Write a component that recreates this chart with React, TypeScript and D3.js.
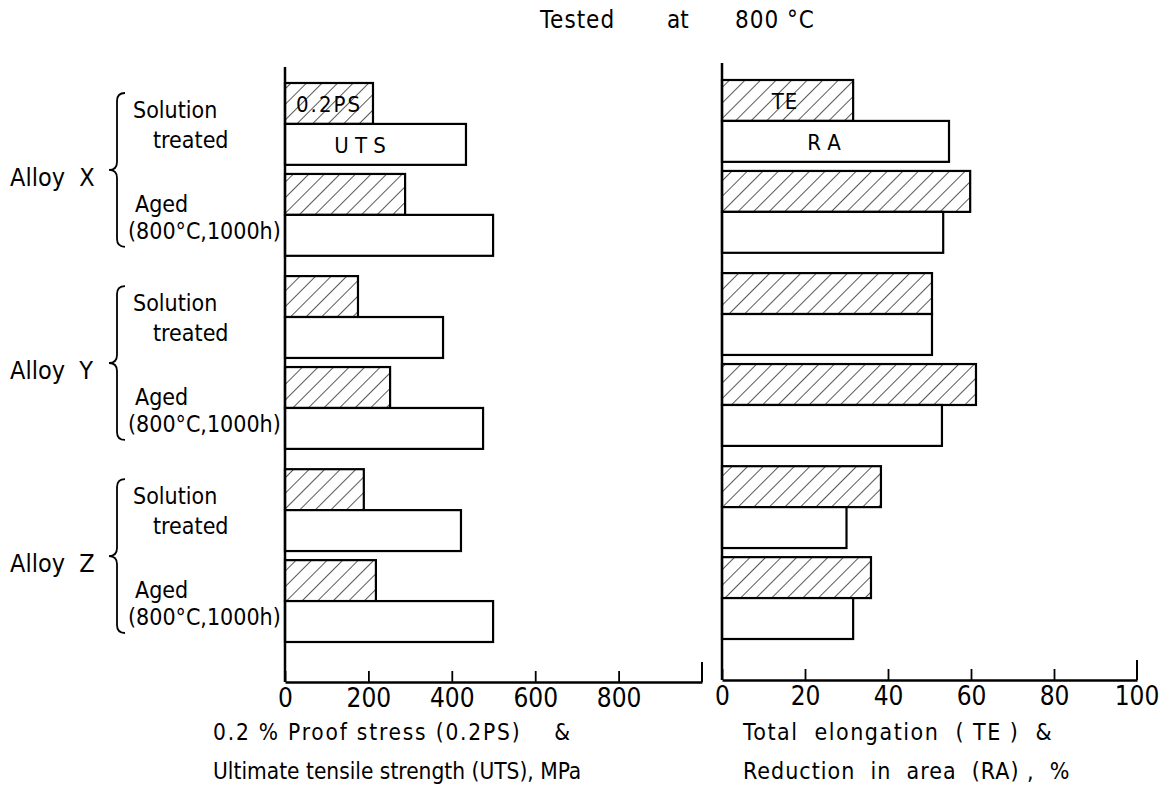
import React, { useRef, useEffect } from 'react';
import * as d3 from 'd3';

// alloys and heat-treatment conditions
const alloys = ['X', 'Y', 'Z'];
const conditions = ['Solution treated', 'Aged (800°C,1000h)'];

// values per alloy, in condition order (solution treated, aged)
const proofStress = [[211, 288], [175, 252], [189, 218]]; // 0.2PS, MPa
const tensileStrength = [[434, 499], [379, 475], [422, 499]]; // UTS, MPa
const elongation = [[31.6, 59.8], [50.6, 61.2], [38.3, 35.9]]; // TE, %
const reduction = [[54.7, 53.3], [50.6, 53.0], [30.0, 31.6]]; // RA, %

const stressTicks = [0, 200, 400, 600, 800];
const percentTicks = [0, 20, 40, 60, 80, 100];

const W = 1159;
const H = 797;
const FONT = '"DejaVu Sans Condensed", "Liberation Sans Narrow", sans-serif';

// curly brace, opening to the right
const bracePath = (x: number, y0: number, y1: number) => {
  const ym = (y0 + y1) / 2;
  const r = 8;
  return `M${x + r},${y0} Q${x},${y0} ${x},${y0 + r} L${x},${ym - r} Q${x},${ym} ${x - r},${ym}` +
    ` Q${x},${ym} ${x},${ym + r} L${x},${y1 - r} Q${x},${y1} ${x + r},${y1}`;
};

const App: React.FC = () => {
  const ref = useRef<SVGSVGElement | null>(null);

  useEffect(() => {
    if (!ref.current) return;
    const svg = d3.select<SVGSVGElement, unknown>(ref.current);
    svg.selectAll('*').remove();

    // hatch pattern
    const defs = svg.append('defs');
    const pat = defs.append('pattern')
      .attr('id', 'hatch')
      .attr('patternUnits', 'userSpaceOnUse')
      .attr('width', 11)
      .attr('height', 11)
      .attr('patternTransform', 'rotate(45)');
    pat.append('rect').attr('width', 11).attr('height', 11).attr('fill', '#fff');
    pat.append('line')
      .attr('x1', 0).attr('y1', 0).attr('x2', 0).attr('y2', 11)
      .attr('stroke', '#000').attr('stroke-width', 1.3);

    // y layout: alloy -> condition -> pair of bars
    const yGroup = d3.scaleBand<string>().domain(alloys).range([83, 642]).paddingInner(0.105);
    const yCond = d3.scaleBand<string>().domain(conditions).range([0, yGroup.bandwidth()]).paddingInner(0.1);
    const yPair = d3.scaleBand<string>().domain(['first', 'second']).range([0, yCond.bandwidth()]);

    const xLeft = d3.scaleLinear().domain([0, 1000]).range([285, 702]);
    const xRight = d3.scaleLinear().domain([0, 100]).range([722, 1137]);

    const drawPanel = (
      x: d3.ScaleLinear<number, number>,
      first: number[][],
      second: number[][],
      dy: number,
      ticks: number[],
      axisY: number,
      axisTop: number,
      endTick: number,
    ) => {
      const g = svg.append('g');
      alloys.forEach((a, i) => {
        conditions.forEach((c, j) => {
          const y0 = yGroup(a)! + yCond(c)! + dy;
          g.append('rect')
            .attr('x', x(0))
            .attr('y', y0 + yPair('first')!)
            .attr('width', x(first[i][j]) - x(0))
            .attr('height', yPair.bandwidth())
            .attr('fill', 'url(#hatch)')
            .attr('stroke', '#000')
            .attr('stroke-width', 2.2);
          g.append('rect')
            .attr('x', x(0))
            .attr('y', y0 + yPair('second')!)
            .attr('width', x(second[i][j]) - x(0))
            .attr('height', yPair.bandwidth())
            .attr('fill', '#fff')
            .attr('stroke', '#000')
            .attr('stroke-width', 2.2);
        });
      });

      // vertical axis line
      g.append('line')
        .attr('x1', x(0)).attr('x2', x(0))
        .attr('y1', axisTop).attr('y2', axisY)
        .attr('stroke', '#000').attr('stroke-width', 2.5);

      const axis = d3.axisBottom(x).tickValues(ticks).tickSizeInner(-11).tickSizeOuter(0).tickPadding(7)
        .tickFormat(d3.format('d'));
      const ag = g.append('g').attr('transform', `translate(0,${axisY})`).call(axis);
      ag.select('.domain').attr('stroke-width', 2.5);
      ag.selectAll('.tick line').attr('stroke-width', 1.8);
      ag.selectAll('.tick text')
        .attr('font-family', FONT)
        .attr('font-size', 26)
        .attr('fill', '#000');

      // taller end tick
      g.append('line')
        .attr('x1', x(endTick)).attr('x2', x(endTick))
        .attr('y1', axisY).attr('y2', axisY - 20)
        .attr('stroke', '#000').attr('stroke-width', 2);
    };

    drawPanel(xLeft, proofStress, tensileStrength, 0, stressTicks, 682, 67, 1000);
    drawPanel(xRight, elongation, reduction, -3, percentTicks.slice(0, 5), 680, 63, 100);
    // 100 label on right axis
    svg.append('text')
      .attr('x', xRight(100)).attr('y', 680 + 7)
      .attr('dy', '0.71em')
      .attr('text-anchor', 'middle')
      .attr('font-family', FONT).attr('font-size', 26)
      .text(percentTicks[5]);

    const text = (x: number, y: number, s: string, size = 23, anchor = 'start', spacing = 0) =>
      svg.append('text')
        .attr('x', x).attr('y', y)
        .attr('text-anchor', anchor)
        .attr('dominant-baseline', 'central')
        .attr('font-family', FONT)
        .attr('font-size', size)
        .attr('letter-spacing', spacing)
        .style('white-space', 'pre')
        .text(s);

    // in-bar labels
    text(329, 104, '0.2PS', 22, 'middle', 2);
    text(360, 145, 'U T S', 22, 'middle');
    text(785, 101, 'TE', 22, 'middle', 1);
    text(824, 142, 'R A', 22, 'middle');

    // alloy and condition labels with braces
    alloys.forEach(a => {
      const top = yGroup(a)!;
      const bw = yGroup.bandwidth();
      text(10, top + bw / 2 + 8, `Alloy  ${a}`, 25);
      svg.append('path')
        .attr('d', bracePath(117, top + 10, top + bw - 9))
        .attr('fill', 'none')
        .attr('stroke', '#000')
        .attr('stroke-width', 1.8);
      const st = top + yCond(conditions[0])!;
      const ag = top + yCond(conditions[1])!;
      text(133, st + 27, 'Solution', 23);
      text(153, st + 57, 'treated', 23);
      text(135, ag + 30, 'Aged', 23);
      text(128, ag + 57, '(800°C,1000h)', 23);
    });

    // title
    text(540, 20, 'Tested', 24, 'start', 1);
    text(667, 20, 'at', 24);
    text(735, 20, '800 °C', 24, 'start', 1);

    // axis titles
    text(213, 732, '0.2 % Proof stress (0.2PS)    &', 22.5, 'start', 1.8);
    text(213, 771, 'Ultimate tensile strength (UTS), MPa', 22.5);
    text(743, 732, 'Total  elongation  ( TE )  &', 23, 'start', 1.5);
    text(743, 771, 'Reduction  in  area  (RA) ,  %', 23, 'start', 1);
  }, []);

  return (
    <svg
      ref={ref}
      width={W}
      height={H}
      style={{ position: 'absolute', left: 0, top: 0, background: '#fff' }}
    />
  );
};

export default App;
